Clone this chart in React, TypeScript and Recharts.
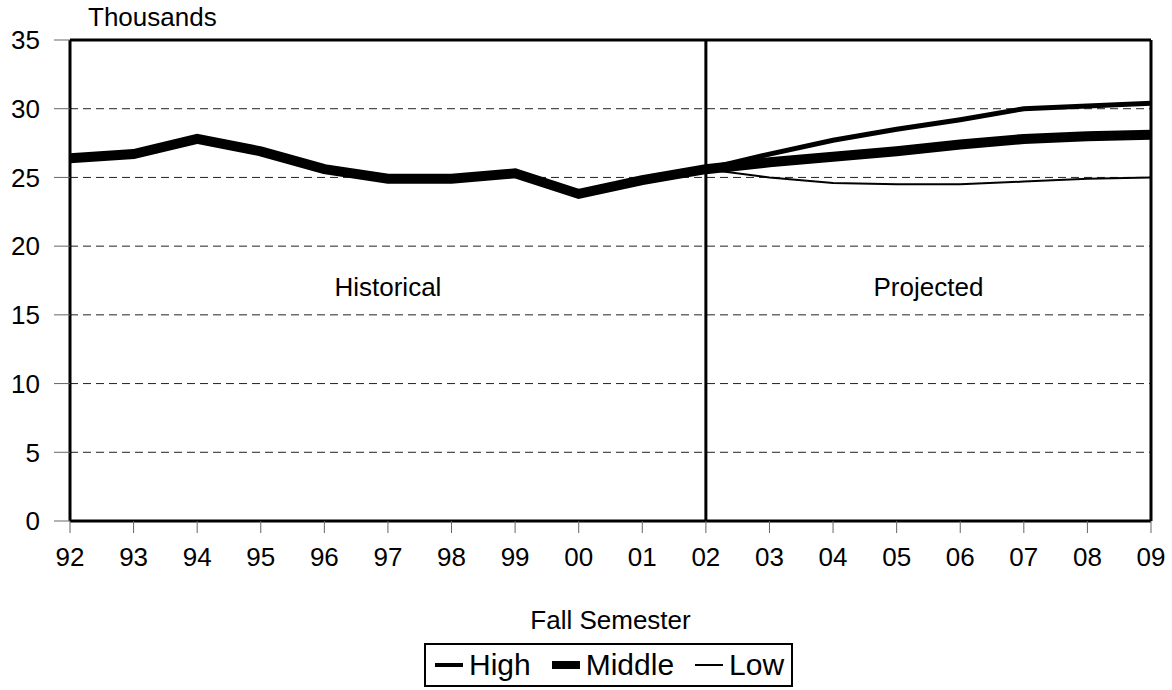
import {
  CartesianGrid,
  Line,
  LineChart,
  ReferenceArea,
  ReferenceLine,
  XAxis,
  YAxis,
} from "recharts";

const years = ["92", "93", "94", "95", "96", "97", "98", "99", "00", "01", "02", "03", "04", "05", "06", "07", "08", "09"];
const middle = [26.4, 26.7, 27.8, 26.9, 25.6, 24.9, 24.9, 25.3, 23.8, 24.8, 25.6, 26.1, 26.5, 26.9, 27.4, 27.8, 28.0, 28.1];
const high = [null, null, null, null, null, null, null, null, null, null, 25.6, 26.7, 27.7, 28.5, 29.2, 30.0, 30.2, 30.4];
const low = [null, null, null, null, null, null, null, null, null, null, 25.6, 25.0, 24.6, 24.5, 24.5, 24.7, 24.9, 25.0];
const yTicks = [0, 5, 10, 15, 20, 25, 30, 35];

const FONT = "'Liberation Sans', Arial, sans-serif";

const data = years.map((year, i) => ({ year, middle: middle[i], high: high[i], low: low[i] }));

const legendItems = [
  { name: "High", width: 4 },
  { name: "Middle", width: 8 },
  { name: "Low", width: 2 },
];

export default function App() {
  return (
    <div style={{ position: "absolute", left: 0, top: 0, width: 1172, height: 690, background: "#fff", fontFamily: FONT }}>
      <LineChart width={1172} height={640} data={data} margin={{ top: 40, right: 21, bottom: 0, left: 0 }}>
        <CartesianGrid horizontal vertical={false} stroke="#222" strokeDasharray="8 5" />
        <XAxis
          dataKey="year"
          height={119}
          axisLine={{ stroke: "#000", strokeWidth: 3 }}
          tickLine={{ stroke: "#666" }}
          tickSize={12}
          tickMargin={15}
          tick={{ fill: "#000", fontSize: 26, fontFamily: FONT }}
          interval={0}
          label={{ value: "Fall Semester", position: "insideBottom", offset: 11, fill: "#000", fontSize: 26, fontFamily: FONT }}
        />
        <YAxis
          domain={[0, 35]}
          ticks={yTicks}
          width={70}
          axisLine={{ stroke: "#000", strokeWidth: 3 }}
          tickLine={{ stroke: "#666" }}
          tickSize={16}
          tickMargin={14}
          tick={{ fill: "#000", fontSize: 26, fontFamily: FONT }}
        />
        <ReferenceArea
          x1="92"
          x2="02"
          y1={0}
          y2={35}
          fillOpacity={0}
          strokeOpacity={0}
          label={{ value: "Historical", position: "center", fill: "#000", fontSize: 26, fontFamily: FONT, dy: 6 }}
        />
        <ReferenceArea
          x1="02"
          x2="09"
          y1={0}
          y2={35}
          fillOpacity={0}
          strokeOpacity={0}
          label={{ value: "Projected", position: "center", fill: "#000", fontSize: 26, fontFamily: FONT, dy: 6 }}
        />
        <ReferenceLine y={35} stroke="#000" strokeWidth={3} />
        <ReferenceLine x="09" stroke="#000" strokeWidth={3} />
        <ReferenceLine x="02" stroke="#000" strokeWidth={3} />
        <Line dataKey="high" stroke="#000" strokeWidth={5} dot={false} isAnimationActive={false} />
        <Line dataKey="low" stroke="#000" strokeWidth={2} dot={false} isAnimationActive={false} />
        <Line dataKey="middle" stroke="#000" strokeWidth={10} dot={false} isAnimationActive={false} />
      </LineChart>
      <div style={{ position: "absolute", left: 88, top: 2, fontSize: 26, color: "#000" }}>Thousands</div>
      <div
        style={{
          position: "absolute",
          left: 424,
          top: 643,
          width: 369,
          height: 44,
          boxSizing: "border-box",
          border: "2px solid #000",
          display: "flex",
          alignItems: "center",
          paddingLeft: 9,
          fontSize: 30,
          color: "#000",
        }}
      >
        {legendItems.map((item) => (
          <div key={item.name} style={{ display: "flex", alignItems: "center", marginRight: 21 }}>
            <span style={{ display: "inline-block", width: 28, height: item.width, background: "#000", marginRight: 6 }} />
            <span>{item.name}</span>
          </div>
        ))}
      </div>
    </div>
  );
}
